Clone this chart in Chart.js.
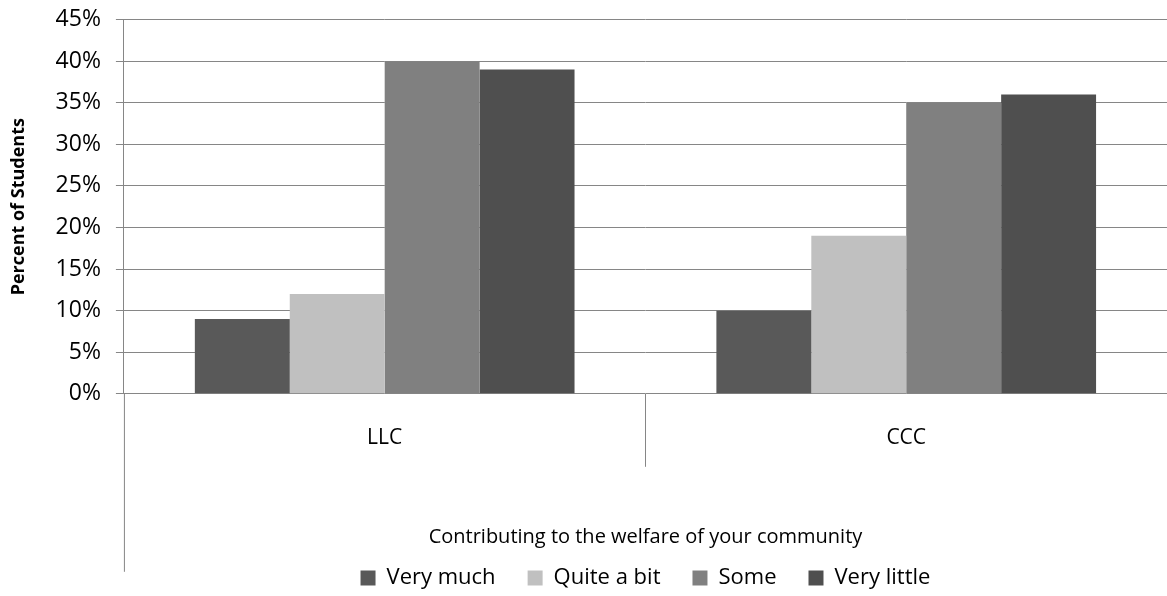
<!DOCTYPE html>
<html>
<head>
<meta charset="utf-8">
<script src="https://cdn.jsdelivr.net/npm/chart.js@4"></script>
<style>
  html, body { margin: 0; padding: 0; background: #fff; }
  #wrap { width: 1167px; height: 596px; position: relative; }
</style>
</head>
<body>
<div id="wrap"><canvas id="chart"></canvas></div>
<script>
// data
const groups = ['LLC', 'CCC'];
const veryMuch = [9, 10];
const quiteABit = [12, 19];
const some = [40, 35];
const veryLittle = [39, 36];
const yTicks = [0, 5, 10, 15, 20, 25, 30, 35, 40, 45];

const FONT = "'Open Sans', 'Noto Sans', sans-serif";
const LINE = '#868686';

// divider between categories + y axis running down past the labels (Excel style)
const axisLines = {
  id: 'axisLines',
  afterDraw(chart) {
    const { ctx, chartArea, scales } = chart;
    const x = scales.x;
    ctx.save();
    ctx.strokeStyle = LINE;
    ctx.lineWidth = 1;
    ctx.beginPath();
    // left axis extension
    ctx.moveTo(chartArea.left + 0.5, chartArea.bottom);
    ctx.lineTo(chartArea.left + 0.5, chartArea.bottom + 178);
    // divider between the two groups
    const mid = Math.round((x.getPixelForValue(0) + x.getPixelForValue(1)) / 2) + 0.5;
    ctx.moveTo(mid, chartArea.bottom);
    ctx.lineTo(mid, chartArea.bottom + 73);
    ctx.stroke();
    ctx.restore();
  }
};

const mk = (label, data, color) => ({
  label, data, backgroundColor: color, borderWidth: 0,
  categoryPercentage: 0.728, barPercentage: 1.0
});

new Chart(document.getElementById('chart'), {
  type: 'bar',
  data: {
    labels: groups,
    datasets: [
      mk('Very much', veryMuch, '#595959'),
      mk('Quite a bit', quiteABit, '#c0c0c0'),
      mk('Some', some, '#808080'),
      mk('Very little', veryLittle, '#4f4f4f')
    ]
  },
  options: {
    responsive: true,
    maintainAspectRatio: false,
    animation: false,
    layout: { padding: { top: 17, right: 0, left: 6, bottom: -3 } },
    plugins: {
      tooltip: { enabled: false },
      legend: {
        position: 'bottom',
        fullSize: false,
        labels: {
          boxWidth: 15, boxHeight: 15, padding: 32,
          color: '#000', font: { family: FONT, size: 22 }
        }
      }
    },
    scales: {
      x: {
        grid: { display: false },
        border: { display: false },
        ticks: { color: '#000', padding: 24, font: { family: FONT, size: 21 } },
        title: {
          display: true,
          text: 'Contributing to the welfare of your community',
          color: '#000',
          font: { family: FONT, size: 20 },
          padding: { top: 50, bottom: -14 }
        }
      },
      y: {
        min: 0, max: 45,
        afterBuildTicks(axis) { axis.ticks = yTicks.map(v => ({ value: v })); },
        grid: { color: LINE, lineWidth: 1, tickLength: 8 },
        border: { color: LINE, width: 1 },
        ticks: {
          color: '#000', padding: 15,
          font: { family: FONT, size: 23, lineHeight: 0.4 },
          callback: v => v + '%'
        },
        title: {
          display: true, text: 'Percent of Students', color: '#000',
          font: { family: FONT, size: 18, weight: 'bold' },
          padding: { top: 2, bottom: 11 }
        }
      }
    }
  },
  plugins: [axisLines]
});
</script>
</body>
</html>
